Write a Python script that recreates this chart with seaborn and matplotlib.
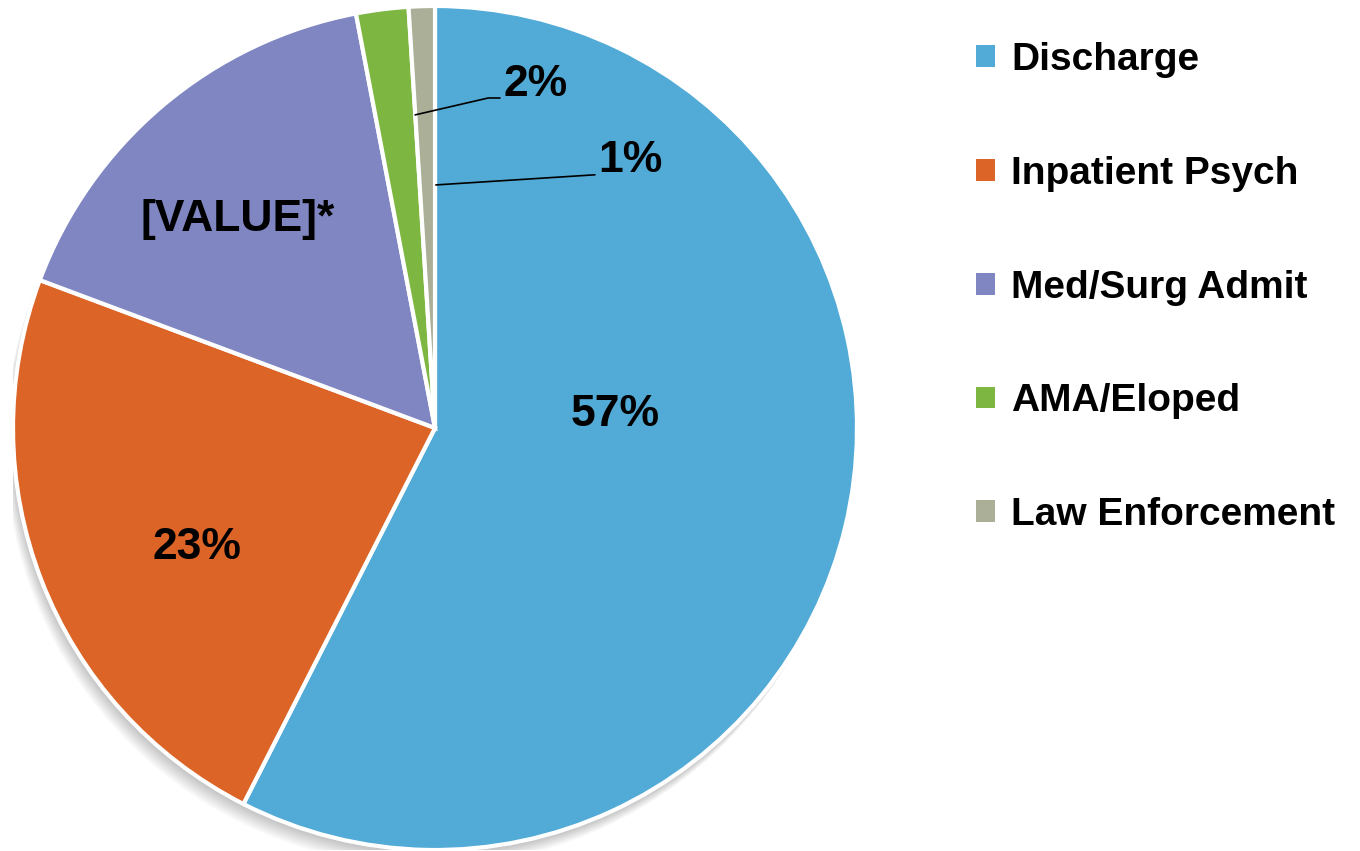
import matplotlib
matplotlib.use('Agg')
import matplotlib.pyplot as plt
import seaborn as sns
from matplotlib.patches import Circle

# Datos del gráfico
categories = ['Discharge', 'Inpatient Psych', 'Med/Surg Admit', 'AMA/Eloped', 'Law Enforcement']
values = [57.5, 23.2, 16.3, 2.0, 1.0]
value_labels = ['57%', '23%', '[VALUE]*', '2%', '1%']
colors = ['#52AAD6', '#DB6426', '#7F86C2', '#7DB742', '#ABAF98']

sns.set_theme(style='white')
plt.rcParams['font.family'] = ['Liberation Sans', 'DejaVu Sans']
plt.rcParams['font.weight'] = 'bold'
plt.rcParams['text.color'] = 'black'

fig = plt.figure(figsize=(13.6, 8.51), dpi=100)
ax = fig.add_axes([13 / 1360, 1 / 851, 844 / 1360, 844 / 851])

# Sombra suave bajo el pastel
for i in range(12):
    ax.add_patch(Circle((-0.002 - 0.0015 * i, -0.006 - 0.003 * i), 1.0,
                        color='black', alpha=0.018, lw=0, zorder=0))

wedges, _ = ax.pie(values, colors=colors, startangle=90, counterclock=False,
                   radius=1.0, wedgeprops=dict(edgecolor='white', linewidth=3))
for w in wedges:
    w.set_zorder(1)

ax.set_xlim(-1, 1)
ax.set_ylim(-1, 1)
ax.set_aspect('equal')
ax.axis('off')

fs = 32
ax.text(0.427, 0.031, value_labels[0], ha='center', va='center', fontsize=fs, fontweight='bold')
ax.text(-0.564, -0.284, value_labels[1], ha='center', va='center', fontsize=fs, fontweight='bold')
ax.text(-0.467, 0.493, value_labels[2], ha='center', va='center', fontsize=fs, fontweight='bold')

# Etiquetas con línea guía
ax.plot([-0.047, 0.126, 0.154], [0.742, 0.782, 0.782], color='black', lw=1.2, zorder=3)
ax.text(0.239, 0.813, value_labels[3], ha='center', va='center', fontsize=fs, fontweight='bold')
ax.plot([0.002, 0.379], [0.576, 0.600], color='black', lw=1.2, zorder=3)
ax.text(0.462, 0.635, value_labels[4], ha='center', va='center', fontsize=fs, fontweight='bold')

lfs = 28
leg = fig.legend(wedges, categories, loc='upper left', bbox_to_anchor=(976 / 1360, 1 - 42 / 851),
                 frameon=False, fontsize=lfs, handlelength=0.49, handleheight=0.49,
                 handletextpad=0.41, labelspacing=2.0, borderpad=0, borderaxespad=0)
for t in leg.get_texts():
    t.set_fontweight('bold')
    t.set_color('black')
for h in leg.legend_handles:
    h.set_edgecolor('none')

fig.savefig('out.png', dpi=100)
